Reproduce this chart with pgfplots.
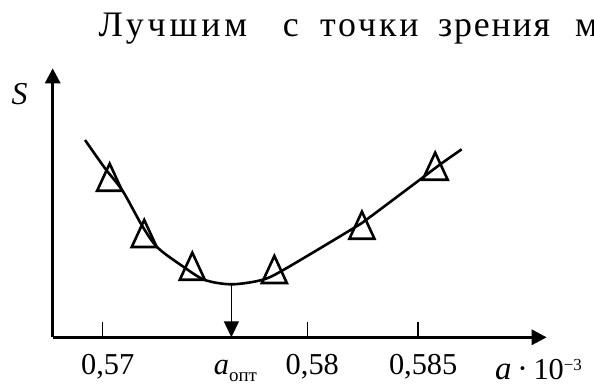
\documentclass[border=0pt]{standalone}
\usepackage{pgfplots}
\pgfplotsset{compat=1.18}
\usetikzlibrary{arrows.meta}
\usepackage{fontspec}
\setmainfont{Liberation Serif}
\begin{document}
\begin{tikzpicture}
\begin{axis}[
  at={(52.7bp,47.7bp)}, anchor=south west,
  scale only axis, width=494bp, height=269bp,
  xmin=0.567556, xmax=0.591701, ymin=0, ymax=2.69,
  axis x line=bottom, axis y line=left,
  axis line style={line width=3bp, -{Triangle[length=15bp,width=15bp]}},
  xtick={0.57,0.58,0.58542},
  xticklabels={{0,57},{0,58},{0,585}},
  ytick=\empty,
  tick align=inside,
  major tick length=15bp,
  every tick/.style={line width=1.4bp, black},
  xticklabel style={anchor=base, yshift=-37.7bp, xshift=5bp, font=\fontsize{30.5}{30.5}\selectfont},
  extra x ticks={0.57629},
  extra x tick labels={{\textit{a}\raisebox{-6.5bp}{\fontsize{19}{19}\selectfont опт}}},
  extra x tick style={major tick length=0pt, xticklabel style={xshift=-1bp}},
  clip=false,
]
% smooth curve S(a)
\addplot[line width=2.6bp, smooth, black, forget plot] coordinates {
  (0.569135,1.973) (0.570112,1.69) (0.570978,1.463) (0.571906,1.123)
  (0.572669,0.90) (0.573939,0.706) (0.575000,0.573) (0.576305,0.53)
  (0.577771,0.573) (0.578827,0.673) (0.582248,1.09) (0.582981,1.19)
  (0.585591,1.59) (0.586569,1.74) (0.587546,1.88)
};
% measured points
\addplot[only marks, mark=triangle, mark size=14.5pt,
  mark options={yscale=1.25, line width=2.6bp, fill=white, draw=black}, forget plot]
  coordinates {
  (0.57034,1.556) (0.57203,0.993) (0.57438,0.666)
  (0.57839,0.633) (0.58267,1.076) (0.58625,1.666)
};
% optimum arrow
\addplot[line width=1.4bp, black, -{Triangle[length=16bp,width=15bp]}, forget plot]
  coordinates {(0.57629,0.53) (0.57629,0)};
\end{axis}
\node at (19.5bp,290.5bp) {\fontsize{32}{32}\selectfont\textit{S}};
\node[anchor=base west, inner sep=0pt] at (495bp,6bp)
  {\fontsize{33}{33}\selectfont\textit{a}\,·\,{\fontsize{30.5}{30.5}\selectfont 10}\raisebox{8.5bp}{\fontsize{17}{17}\selectfont −3}};
\begin{scope}[every node/.style={anchor=base west, inner sep=0pt}]
\node[font=\fontsize{36}{36}\selectfont\addfontfeature{LetterSpace=11}] at (98.3bp,348.3bp) {Лучшим};
\node[font=\fontsize{36}{36}\selectfont] at (282.7bp,348.3bp) {с};
\node[font=\fontsize{36}{36}\selectfont\addfontfeature{LetterSpace=8}] at (320bp,348.3bp) {точки};
\node[font=\fontsize{36}{36}\selectfont\addfontfeature{LetterSpace=5}] at (438bp,348.3bp) {зрения};
\node[font=\fontsize{36}{36}\selectfont] at (575bp,348.3bp) {м};
\end{scope}
\pgfresetboundingbox
\useasboundingbox (0,0) rectangle (594bp,385bp);
\end{tikzpicture}
\end{document}
